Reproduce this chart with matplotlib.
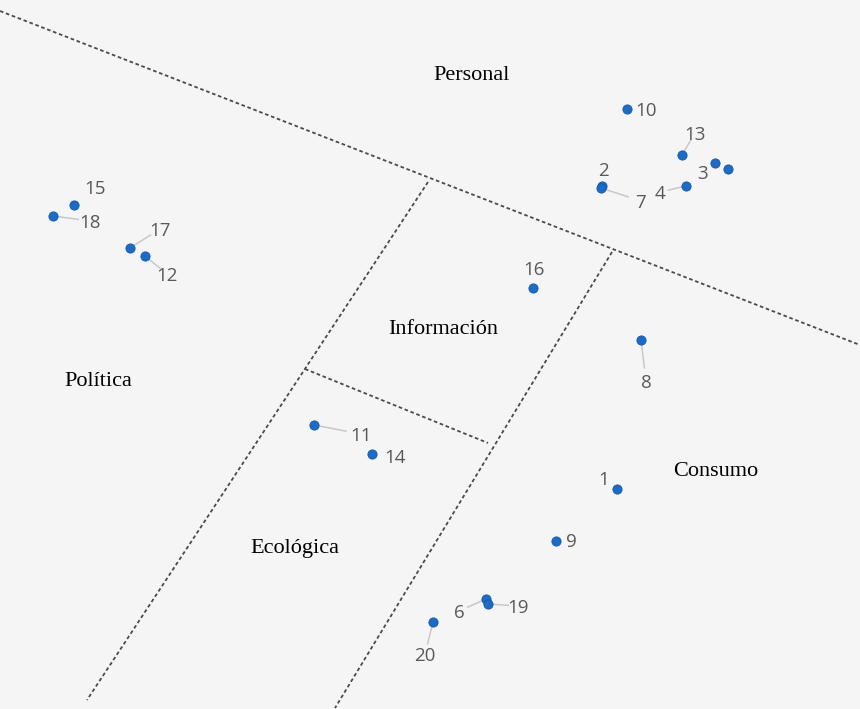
import matplotlib.pyplot as plt

# point ids and positions (pixel-like units, y down)
ids = [1, 2, 3, 4, 5, 6, 7, 8, 9, 10, 11, 12, 13, 14, 15, 16, 17, 18, 19, 20]
xs = [617, 602, 715, 686, 728, 486, 601, 641, 556, 627, 314, 145, 682, 372, 74, 533, 130, 53, 488, 433]
ys = [489, 186, 163, 186, 169, 599, 188, 340, 541, 109, 425, 256, 155, 454, 205, 288, 248, 216, 604, 622]

# region names
regions = ['Personal', 'Política', 'Información', 'Ecológica', 'Consumo']
region_x = [472, 98, 443, 295, 716]
region_y = [75, 381, 329, 548, 470]

# dividing lines (x0, y0, x1, y1)
borders = [
    (0, 11, 860, 345),
    (428, 182, 87, 700),
    (612, 252, 335, 708),
    (305, 369, 488, 443),
]

# label placement: (dx, dy, leader line)
label_pos = {
    1: (-13, -11, False), 2: (1, -17, False), 3: (-12, 9, False), 4: (-26, 6, True),
    5: None, 6: (-27, 12, True), 7: (40, 13, True), 8: (5, 41, True),
    9: (15, -1, False), 10: (19, 0, False), 11: (47, 9, True), 12: (22, 18, True),
    13: (13, -22, True), 14: (23, 2, False), 15: (21, -18, False), 16: (1, -20, False),
    17: (30, -19, True), 18: (37, 5, True), 19: (30, 2, True), 20: (-8, 32, True),
}

bg = '#f5f5f5'
fig = plt.figure(figsize=(8.6, 7.09), dpi=100, facecolor=bg)
ax = fig.add_axes([0, 0, 1, 1])
ax.set_facecolor(bg)
ax.set_xlim(0, 860)
ax.set_ylim(709, 0)
ax.axis('off')

for x0, y0, x1, y1 in borders:
    ax.plot([x0, x1], [y0, y1], color='#4a4a4a', lw=1.3, ls=(0, (2.0, 1.5)))

for i, x, y in zip(ids, xs, ys):
    lp = label_pos[i]
    if lp is None:
        continue
    dx, dy, lead = lp
    if lead:
        ax.plot([x, x + dx * 0.68], [y, y + dy * 0.68], color='#c8c8c8', lw=1.1, zorder=2)
    ax.text(x + dx, y + dy + 2, str(i), ha='center', va='center', fontsize=13.5,
            color='#595959', family='Open Sans')

ax.scatter(xs, ys, s=44, color='#1c6cc6', edgecolors='#1557a8', linewidths=0.6, zorder=3)

for name, x, y in zip(regions, region_x, region_y):
    ax.text(x, y + 1, name, ha='center', va='center', fontsize=16,
            family='Liberation Serif', color='black')

fig.savefig('out.png', dpi=100, facecolor=bg)
